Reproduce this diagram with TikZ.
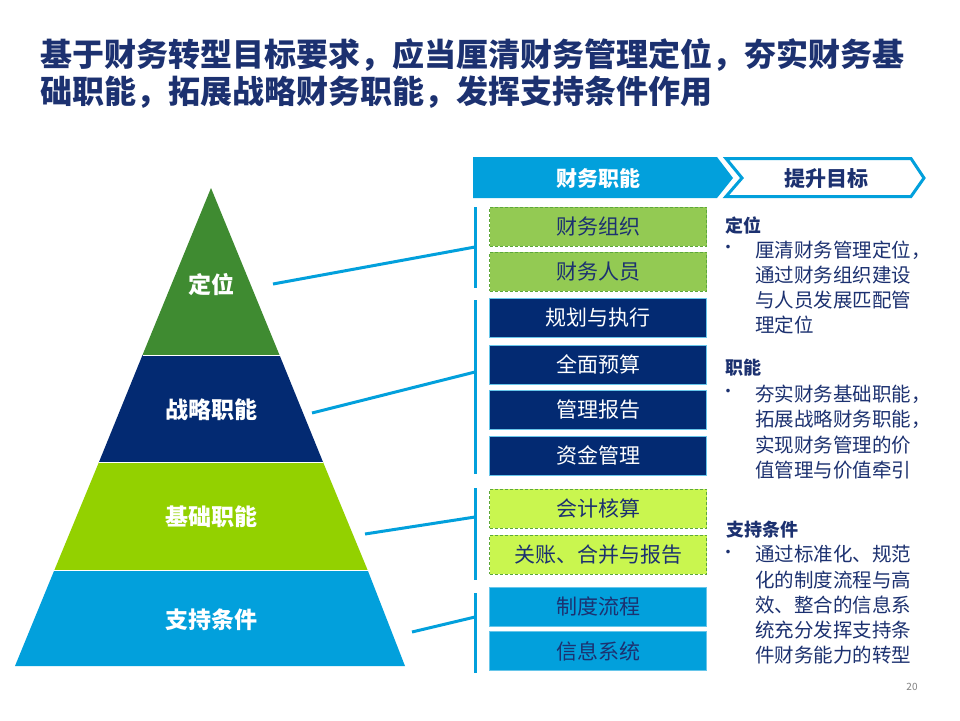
\documentclass[tikz,border=0pt]{standalone}
\usepackage{fontspec}
\setmainfont{Noto Sans CJK SC}
\usepackage{tikz}
\usepackage{xcolor}

\definecolor{navy}{HTML}{032A72}
\definecolor{topgreen}{HTML}{3F8B31}
\definecolor{lime}{HTML}{93D100}
\definecolor{sky}{HTML}{02A0DC}
\definecolor{ink}{HTML}{1C3170}
\definecolor{boxgreen}{HTML}{93CA53}
\definecolor{boxlime}{HTML}{C9F64F}
\definecolor{edgegreen}{HTML}{5DA83B}

\tikzset{
  fnbox/.style={minimum width=217pt, minimum height=39pt, inner sep=0pt,
    font=\fontsize{21}{21}\selectfont},
  greenbox/.style={fnbox, fill=boxgreen, draw=edgegreen, densely dashed, text=ink},
  navybox/.style={fnbox, fill=navy, draw=sky!60, text=white},
  limebox/.style={fnbox, fill=boxlime, draw=edgegreen, densely dashed, text=ink},
  skybox/.style={fnbox, fill=sky, draw=sky!60!white, text=ink},
  level/.style={text=white, font=\bfseries\fontsize{23}{23}\selectfont},
  bracket/.style={draw=sky, line width=3pt},
  link/.style={draw=sky, line width=3pt},
  goalhead/.style={text=ink, font=\bfseries\fontsize{18}{18}\selectfont, anchor=west, inner sep=0pt},
  goaltext/.style={text=ink, font=\fontsize{19.5}{25.3}\selectfont, align=left, anchor=west, inner sep=0pt},
  bullet/.style={text=ink, font=\fontsize{17}{17}\selectfont, inner sep=0pt},
}

\begin{document}
\begin{tikzpicture}[x=1pt,y=-1pt]
\useasboundingbox (0,0) rectangle (960,720);
\fill[white] (0,0) rectangle (960,720);

% title
\node[anchor=west, inner sep=0pt, align=left, text=ink,
  font=\bfseries\fontsize{32}{37}\selectfont] (title) at (40,73.5)
  {基于财务转型目标要求，应当厘清财务管理定位，夯实财务基\\础职能，拓展战略财务职能，发挥支持条件作用};

% pyramid
\fill[topgreen] (211,188) -- (279.5,355) -- (142.5,355) -- cycle;
\fill[navy] (142.5,355) -- (279.5,355) -- (323,462) -- (99,462) -- cycle;
\fill[lime] (99,462) -- (323,462) -- (367.6,570) -- (54.4,570) -- cycle;
\fill[sky] (54.4,570) -- (367.6,570) -- (405,666) -- (15,666) -- cycle;
\draw[white, line width=1pt] (142.5,355) -- (279.5,355);
\draw[white, line width=1pt] (99,462) -- (323,462);
\draw[white, line width=1pt] (54.4,570) -- (367.6,570);

\node[level] (pos) at (211,285) {定位};
\node[level] (strat) at (211,410) {战略职能};
\node[level] (base) at (211,517) {基础职能};
\node[level] (supp) at (211,620) {支持条件};

% header chevrons
\fill[sky] (473,157) -- (717,157) -- (733,178) -- (717,198) -- (473,198) -- cycle;
\draw[sky, fill=white, line width=3pt] (726,158.5) -- (911,158.5) -- (924,178)
  -- (911,196.5) -- (726,196.5) -- (742,178) -- cycle;
\node[text=white, font=\bfseries\fontsize{21}{21}\selectfont] (fn) at (598,178) {财务职能};
\node[text=ink, font=\bfseries\fontsize{21}{21}\selectfont] (goal) at (826,179) {提升目标};

% function boxes
\node[greenbox] (org) at (598,226.5) {财务组织};
\node[greenbox] (staff) at (598,271.5) {财务人员};
\node[navybox] (plan) at (598,318) {规划与执行};
\node[navybox] (budget) at (598,364.5) {全面预算};
\node[navybox] (report) at (598,410) {管理报告};
\node[navybox] (fund) at (598,455.5) {资金管理};
\node[limebox] (acct) at (598,508.5) {会计核算};
\node[limebox] (close) at (598,554.5) {关账、合并与报告};
\node[skybox] (proc) at (598,606.5) {制度流程};
\node[skybox] (info) at (598,651) {信息系统};

% brackets
\draw[bracket] (475,207) -- (475,288);
\draw[bracket] (475,300) -- (475,474);
\draw[bracket] (475,488) -- (475,580);
\draw[bracket] (475,593) -- (475,673);

\coordinate (p1) at (273,284);
\coordinate (p2) at (312,413);
\coordinate (p3) at (365,534);
\coordinate (p4) at (412,632);
\coordinate (q1) at (475,247);
\coordinate (q2) at (475,372);
\coordinate (q3) at (475,517);
\coordinate (q4) at (475,617);
\draw[link] (p1) -- (q1);
\draw[link] (p2) -- (q2);
\draw[link] (p3) -- (q3);
\draw[link] (p4) -- (q4);

% goals
\node[goalhead] (h1) at (725,225) {定位};
\node[bullet] (d1) at (728,249) {•};
\node[goaltext] (t1) at (755,287.5)
  {厘清财务管理定位，\\通过财务组织建设\\与人员发展匹配管\\理定位};

\node[goalhead] (h2) at (725,368) {职能};
\node[bullet] (d2) at (728,393) {•};
\node[goaltext] (t2) at (755,432)
  {夯实财务基础职能，\\拓展战略财务职能，\\实现财务管理的价\\值管理与价值牵引};

\node[goalhead] (h3) at (726,530) {支持条件};
\node[bullet] (d3) at (728,554) {•};
\node[goaltext] (t3) at (755,605)
  {通过标准化、规范\\化的制度流程与高\\效、整合的信息系\\统充分发挥支持条\\件财务能力的转型};

\node[text=gray, font=\fontsize{10}{10}\selectfont] (page) at (912,687) {20};
\end{tikzpicture}
\end{document}
